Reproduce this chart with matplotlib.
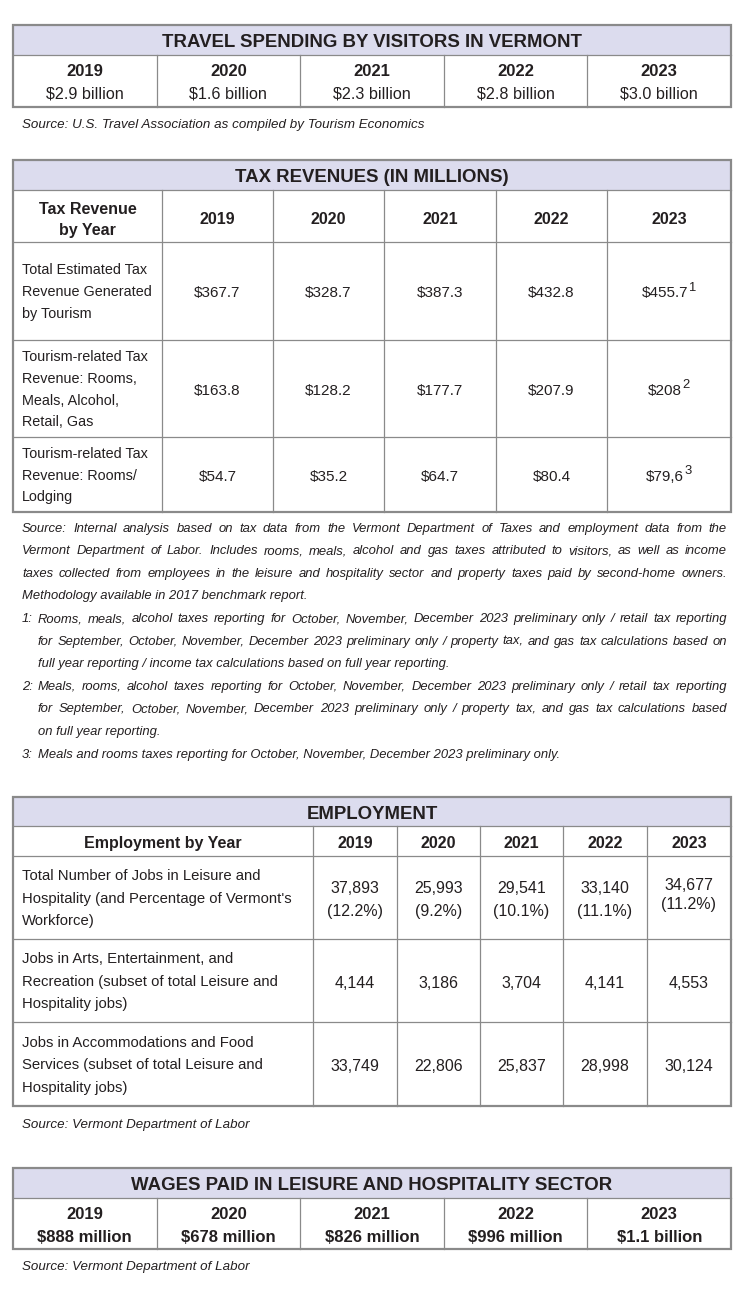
import matplotlib.pyplot as plt
from matplotlib import font_manager
from matplotlib.patches import Rectangle

plt.rcParams['text.parse_math'] = False
installed = {f.name for f in font_manager.fontManager.ttflist}
FONT = [f for f in ['Liberation Sans Narrow', 'Liberation Sans', 'DejaVu Sans'] if f in installed]
INK = '#231f20'
LINE = '#8a8a8a'
BAND = '#dcdcee'

# data
years = ['2019', '2020', '2021', '2022', '2023']
spending = ['$2.9 billion', '$1.6 billion', '$2.3 billion', '$2.8 billion', '$3.0 billion']

tax_rows = [['Total Estimated Tax', 'Revenue Generated', 'by Tourism'],
            ['Tourism-related Tax', 'Revenue: Rooms,', 'Meals, Alcohol,', 'Retail, Gas'],
            ['Tourism-related Tax', 'Revenue: Rooms/', 'Lodging']]
tax_total = ['$367.7', '$328.7', '$387.3', '$432.8', '$455.7']
tax_meals = ['$163.8', '$128.2', '$177.7', '$207.9', '$208']
tax_rooms = ['$54.7', '$35.2', '$64.7', '$80.4', '$79,6']
tax_notes = ['1', '2', '3']

emp_rows = [['Total Number of Jobs in Leisure and', "Hospitality (and Percentage of Vermont's", 'Workforce)'],
            ['Jobs in Arts, Entertainment, and', 'Recreation (subset of total Leisure and', 'Hospitality jobs)'],
            ['Jobs in Accommodations and Food', 'Services (subset of total Leisure and', 'Hospitality jobs)']]
jobs_total = ['37,893', '25,993', '29,541', '33,140', '34,677']
jobs_pct = ['(12.2%)', '(9.2%)', '(10.1%)', '(11.1%)', '(11.2%)']
jobs_arts = ['4,144', '3,186', '3,704', '4,141', '4,553']
jobs_food = ['33,749', '22,806', '25,837', '28,998', '30,124']

wages = ['$888 million', '$678 million', '$826 million', '$996 million', '$1.1 billion']

tax_source = [
    'Source: Internal analysis based on tax data from the Vermont Department of Taxes and employment data from the',
    'Vermont Department of Labor. Includes rooms, meals, alcohol and gas taxes attributed to visitors, as well as income',
    'taxes collected from employees in the leisure and hospitality sector and property taxes paid by second-home owners.',
    'Methodology available in 2017 benchmark report.']
footnotes = [
    ['1:', 'Rooms, meals, alcohol taxes reporting for October, November, December 2023 preliminary only / retail tax reporting',
     'for September, October, November, December 2023 preliminary only / property tax, and gas tax calculations based on',
     'full year reporting / income tax calculations based on full year reporting.'],
    ['2:', 'Meals, rooms, alcohol taxes reporting for October, November, December 2023 preliminary only / retail tax reporting',
     'for September, October, November, December 2023 preliminary only / property tax, and gas tax calculations based',
     'on full year reporting.'],
    ['3:', 'Meals and rooms taxes reporting for October, November, December 2023 preliminary only.']]

fig = plt.figure(figsize=(7.5, 13), dpi=100)
ax = fig.add_axes([0, 0, 1, 1])
ax.set_xlim(0, 750)
ax.set_ylim(1300, 0)
ax.axis('off')
renderer = fig.canvas.get_renderer()

X0, X1 = 13, 731


def txt(x, y, s, size=11, weight='normal', style='normal', ha='center'):
    # y is the middle of the capitals
    return ax.text(x, y + 0.36 * size * 100 / 72, s, fontsize=size, fontweight=weight,
                   fontstyle=style, ha=ha, va='baseline', color=INK, family=FONT)


def width(s, size, weight='normal', style='normal'):
    t = txt(0, 0, s, size=size, weight=weight, style=style, ha='left')
    w = t.get_window_extent(renderer).width
    t.remove()
    return w


def fit(lines, room, size, weight='normal', style='normal'):
    # largest size up to `size` at which every line fits in `room` pixels
    widest = max(width(s, size, weight, style) for s in lines)
    return min(size, size * room / widest)


def frame(top, band, bottom, cols, rows):
    ax.add_patch(Rectangle((X0, top), X1 - X0, band - top, facecolor=BAND, edgecolor='none'))
    ax.plot([X0, X1], [band, band], color=LINE, lw=0.9)
    for r in rows:
        ax.plot([X0, X1], [r, r], color=LINE, lw=0.9)
    for c in cols[1:-1]:
        ax.plot([c, c], [band, bottom], color=LINE, lw=0.9)
    ax.add_patch(Rectangle((X0, top), X1 - X0, bottom - top, facecolor='none', edgecolor=LINE, lw=1.6))


def justify(line, x0, x1, y, size):
    words = line.split()
    parts = [txt(0, y, w, size=size, style='italic', ha='left') for w in words]
    widths = [p.get_window_extent(renderer).width for p in parts]
    gap = (x1 - x0 - sum(widths)) / max(len(words) - 1, 1)
    x = x0
    for p, w in zip(parts, widths):
        p.set_x(x)
        x += w + gap


def sup_value(cx, y, s, note, size):
    t = txt(cx - 4, y, s, size=size)
    w = t.get_window_extent(renderer).width
    ax.text(cx - 4 + w / 2, y - 4, note, fontsize=size * 0.85, ha='left', va='center',
            color=INK, family=FONT)


title_size = 13.4
note_size = fit(tax_source + [l for n in footnotes for l in n[1:]], 684, 10.5, style='italic')
src_size = 9.6
tax_label_size = fit([l for r in tax_rows for l in r], 130, 11.5)
emp_label_size = fit([l for r in emp_rows for l in r], 270, 11.5)

# table 1 - travel spending
cols1 = [X0 + (X1 - X0) * i / 5 for i in range(6)]
frame(25, 55, 107, cols1, [])
txt((X0 + X1) / 2, 40, 'TRAVEL SPENDING BY VISITORS IN VERMONT', size=title_size, weight='bold')
for i in range(5):
    cx = (cols1[i] + cols1[i + 1]) / 2
    txt(cx, 70, years[i], size=12, weight='bold')
    txt(cx, 93, spending[i], size=11.6)
txt(22, 123, 'Source: U.S. Travel Association as compiled by Tourism Economics', size=src_size,
    style='italic', ha='left')

# table 2 - tax revenues
cols2 = [13, 162, 273, 384, 496, 607, 731]
frame(160, 190, 512, cols2, [242, 340, 437])
txt((X0 + X1) / 2, 175, 'TAX REVENUES (IN MILLIONS)', size=title_size, weight='bold')
txt(87.5, 208, 'Tax Revenue', size=11.5, weight='bold')
txt(87.5, 229, 'by Year', size=11.5, weight='bold')
for i in range(5):
    txt((cols2[i + 1] + cols2[i + 2]) / 2, 218, years[i], size=11.5, weight='bold')
bounds2 = [242, 340, 437, 512]
for r, (lines, vals) in enumerate(zip(tax_rows, [tax_total, tax_meals, tax_rooms])):
    mid = (bounds2[r] + bounds2[r + 1]) / 2
    for k, line in enumerate(lines):
        txt(22, mid + (k - (len(lines) - 1) / 2) * 21.7, line, size=tax_label_size, ha='left')
    for i in range(5):
        cx = (cols2[i + 1] + cols2[i + 2]) / 2
        if i == 4:
            sup_value(cx, mid + 1, vals[i], tax_notes[r], 11)
        else:
            txt(cx, mid + 1, vals[i], size=11)

# notes under the tax table
for k, line in enumerate(tax_source):
    y = 527 + 22.6 * k
    if k < len(tax_source) - 1:
        justify(line, 22, 727, y, note_size)
    else:
        txt(22, y, line, size=note_size, style='italic', ha='left')
n = len(tax_source)
for note in footnotes:
    y = 527 + 22.6 * n
    txt(22, y, note[0], size=note_size, style='italic', ha='left')
    body = note[1:]
    for k, line in enumerate(body):
        y = 527 + 22.6 * n
        if k < len(body) - 1:
            justify(line, 38, 727, y, note_size)
        else:
            txt(38, y, line, size=note_size, style='italic', ha='left')
        n += 1

# table 3 - employment
cols3 = [13, 313, 397, 480, 563, 647, 731]
frame(797, 826, 1106, cols3, [856, 939, 1022])
txt((X0 + X1) / 2, 812, 'EMPLOYMENT', size=title_size, weight='bold')
txt(163, 842, 'Employment by Year', size=11.5, weight='bold')
for i in range(5):
    txt((cols3[i + 1] + cols3[i + 2]) / 2, 842, years[i], size=11.5, weight='bold')
bounds3 = [856, 939, 1022, 1106]
for r, lines in enumerate(emp_rows):
    mid = (bounds3[r] + bounds3[r + 1]) / 2
    for k, line in enumerate(lines):
        txt(22, mid + (k - 1) * 22.5, line, size=emp_label_size, ha='left')
for i in range(5):
    cx = (cols3[i + 1] + cols3[i + 2]) / 2
    if i == 4:
        txt(cx, 884, jobs_total[i], size=11.5)
        txt(cx, 903, jobs_pct[i], size=11.5)
    else:
        txt(cx, 887, jobs_total[i], size=11.5)
        txt(cx, 910, jobs_pct[i], size=11.5)
    txt(cx, 982, jobs_arts[i], size=11.5)
    txt(cx, 1065, jobs_food[i], size=11.5)
txt(22, 1123, 'Source: Vermont Department of Labor', size=src_size, style='italic', ha='left')

# table 4 - wages
cols4 = [X0 + (X1 - X0) * i / 5 for i in range(6)]
frame(1168, 1198, 1249, cols4, [])
txt((X0 + X1) / 2, 1183, 'WAGES PAID IN LEISURE AND HOSPITALITY SECTOR', size=title_size, weight='bold')
for i in range(5):
    cx = (cols4[i] + cols4[i + 1]) / 2
    txt(cx, 1213, years[i], size=12, weight='bold')
    txt(cx, 1236, wages[i], size=12, weight='bold')
txt(22, 1265, 'Source: Vermont Department of Labor', size=src_size, style='italic', ha='left')

fig.savefig('out.png', dpi=100, facecolor='white')
